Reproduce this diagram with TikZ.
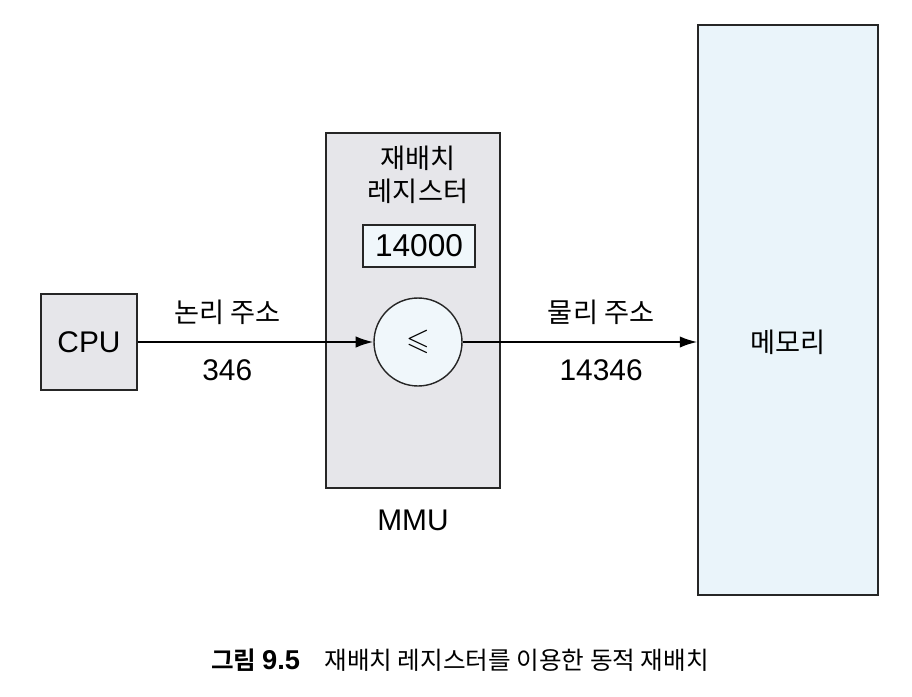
\documentclass[tikz,border=0pt]{standalone}
\usepackage{amssymb}
\usepackage{fontspec}
\setmainfont{Liberation Sans}
\newfontfamily\kr{Noto Sans CJK KR}[BoldFont={Noto Sans CJK KR Bold}]
\usetikzlibrary{arrows.meta, positioning}
\definecolor{boxGray}{HTML}{E6E6EA}
\definecolor{memBlue}{HTML}{EAF4FA}
\definecolor{regBlue}{HTML}{F0F7FB}
\tikzset{
  unitbox/.style={rectangle, draw=black!85, line width=0.8pt,
                  fill=boxGray, inner sep=0pt, font=\fontsize{17}{20}\selectfont},
  membox/.style={rectangle, draw=black!85, line width=0.8pt,
                 fill=memBlue, inner sep=0pt, font=\fontsize{15.5}{18}\selectfont\kr},
  regbox/.style={rectangle, draw=black!85, line width=0.8pt,
                 fill=regBlue, inner sep=0pt, font=\fontsize{18}{21}\selectfont},
  adder/.style={circle, draw=black!85, line width=0.8pt,
                fill=regBlue, inner sep=0pt, minimum size=1.76cm},
  label/.style={font=\fontsize{17}{20}\selectfont},
  krlabel/.style={font=\fontsize{15.5}{18}\selectfont\kr},
  flow/.style={-{Latex[length=10pt, width=6.5pt]}, line width=1.1pt},
}
\begin{document}
\begin{tikzpicture}[x=0.02cm, y=-0.02cm]
    \useasboundingbox (0,0) rectangle (912,696);
    %% blocks
    \node[unitbox, minimum width=1.92cm, minimum height=1.92cm] (cpu) at (89,342) {CPU};
    \node[unitbox, minimum width=3.48cm, minimum height=7.1cm] (mmu) at (413,310.5) {};
    \node[membox, minimum width=3.6cm, minimum height=11.4cm] (mem) at (788,310) {};
    \node[krlabel] (memname) at (788,342) {메모리};
    %% inside the MMU
    \node[krlabel, align=center] (regname) at (418,175)
      {재배치\\[1pt]레지스터};
    \node[regbox, minimum width=2.24cm, minimum height=0.84cm] (reg) at (419,246) {14000};
    \node[adder] (add) at (418,342) {\LARGE$\leqslant$};
    \node[label] (mmuname) at (413,520) {MMU};
    %% addresses
    \draw[flow] (cpu) -- node[pos=0.38, above=6pt, krlabel] (lname) {논리 주소}
                         node[pos=0.38, below=6pt, label] (lval) {346} (add);
    \draw[flow] (add) -- node[pos=0.59, above=6pt, krlabel] (pname) {물리 주소}
                         node[pos=0.59, below=6pt, label] (pval) {14346} (add -| mem.west);
    %% caption
    \node[font=\fontsize{14}{17}\selectfont\kr] (cap) at (460,660)
      {{\bfseries 그림 }{\fontsize{15.5}{18}\selectfont\rmfamily\bfseries 9.5}\hspace{14pt}재배치 레지스터를 이용한 동적 재배치};
\end{tikzpicture}
\end{document}
